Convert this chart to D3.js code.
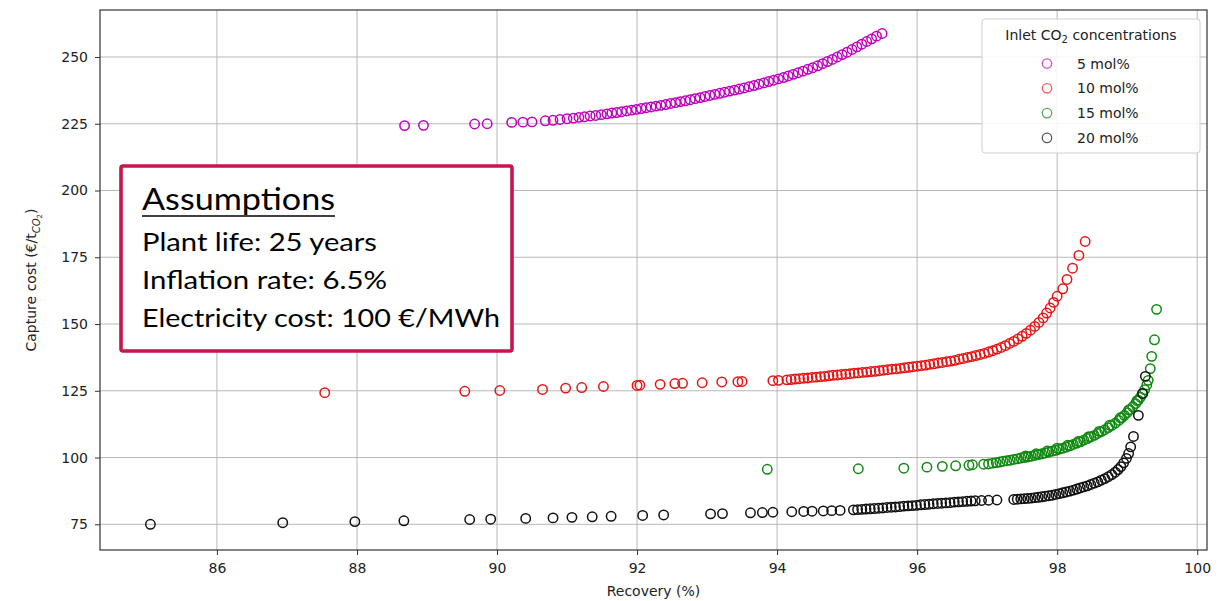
<!DOCTYPE html>
<html>
<head>
<meta charset="utf-8">
<title>Capture cost vs recovery</title>
<script src="https://d3js.org/d3.v7.min.js"></script>
<style>
  body { margin: 0; background: #fff; }
  svg { display: block; }
  .tick text { font-family: "DejaVu Sans", sans-serif; font-size: 14px; fill: #222; }
</style>
</head>
<body>
<svg id="chart"></svg>
<script>
// recovery (%) , capture cost (EUR/t CO2)
const series5 = [
  [88.68,224.3],[88.95,224.4],[89.68,224.9],[89.86,225.0],[90.21,225.5],[90.37,225.6],[90.50,225.7],
  [90.69,226.1],[90.80,226.3],[90.90,226.6],[91.00,226.9],[91.09,227.1],[91.17,227.4],[91.25,227.6],
  [91.33,227.9],[91.41,228.1],[91.49,228.4],[91.57,228.7],[91.64,229.0],[91.71,229.2],[91.78,229.5],
  [91.85,229.8],[91.92,230.1],[91.99,230.4],[92.06,230.7],[92.13,231.0],[92.20,231.3],[92.27,231.6],
  [92.34,231.9],[92.41,232.2],[92.48,232.6],[92.55,232.9],[92.62,233.3],[92.69,233.6],[92.76,234.0],
  [92.83,234.4],[92.90,234.8],[92.97,235.2],[93.04,235.6],[93.11,236.0],[93.18,236.4],[93.25,236.8],
  [93.32,237.2],[93.39,237.6],[93.46,238.0],[93.53,238.4],[93.60,238.9],[93.67,239.3],[93.74,239.8],
  [93.81,240.3],[93.88,240.8],[93.95,241.3],[94.02,241.8],[94.09,242.3],[94.16,242.9],[94.23,243.5],
  [94.30,244.1],[94.37,244.7],[94.44,245.4],[94.51,246.0],[94.58,246.7],[94.65,247.5],[94.72,248.3],
  [94.79,249.1],[94.86,250.0],[94.93,250.9],[95.00,251.8],[95.07,252.8],[95.14,253.8],[95.21,254.8],
  [95.28,255.8],[95.35,256.8],[95.42,257.8],[95.50,258.8]
];
const series10 = [
  [87.54,124.3],[89.54,124.8],[90.04,125.1],[90.65,125.5],[90.98,126.0],[91.21,126.2],[91.52,126.6],
  [92.00,127.0],[92.04,127.1],[92.33,127.4],[92.54,127.7],[92.65,127.8],[92.93,128.0],[93.21,128.3],
  [93.44,128.4],[93.50,128.5],[93.94,128.8],[94.02,128.9],[94.14,129.1],
  [94.20,129.2],[94.26,129.4],[94.32,129.5],[94.38,129.7],[94.44,129.8],[94.50,130.0],[94.56,130.1],
  [94.62,130.3],[94.68,130.4],[94.74,130.6],[94.80,130.8],[94.86,130.9],[94.92,131.1],[94.98,131.2],
  [95.04,131.4],[95.10,131.6],[95.16,131.7],[95.22,131.9],[95.28,132.0],[95.34,132.2],[95.40,132.3],
  [95.46,132.5],[95.52,132.7],[95.58,132.9],[95.64,133.1],[95.70,133.2],[95.76,133.4],[95.82,133.6],
  [95.88,133.8],[95.94,134.0],[96.00,134.2],[96.06,134.4],[96.12,134.6],[96.18,134.9],[96.24,135.1],
  [96.30,135.4],[96.36,135.6],[96.42,135.9],[96.48,136.1],[96.54,136.4],[96.60,136.8],[96.66,137.1],
  [96.72,137.5],[96.78,137.8],[96.84,138.2],[96.90,138.6],[96.96,139.0],[97.02,139.5],[97.08,140.0],
  [97.14,140.6],[97.20,141.2],[97.26,141.9],[97.32,142.7],[97.38,143.5],[97.44,144.4],[97.50,145.4],
  [97.56,146.5],[97.62,147.7],[97.68,149.1],[97.74,150.6],[97.80,152.3],[97.85,154.1],[97.90,156.0],
  [97.95,158.1],[98.00,160.4],[98.08,163.2],[98.14,166.7],[98.22,170.9],[98.31,175.7],[98.40,180.9]
];
const series15 = [
  [93.86,95.6],[95.16,95.8],[95.81,96.0],[96.14,96.4],[96.36,96.7],[96.55,96.9],[96.74,97.1],
  [96.79,97.3],[96.95,97.5],[97.02,97.6],
  [97.08,97.9],[97.13,98.1],[97.18,98.3],[97.23,98.6],[97.28,98.8],[97.33,99.0],[97.38,99.3],
  [97.43,99.5],[97.48,99.8],[97.53,100.0],[97.58,100.2],[97.63,100.5],[97.68,100.8],[97.73,101.1],
  [97.78,101.4],[97.83,101.7],[97.88,102.0],[97.93,102.4],[97.98,102.7],[98.03,103.1],[98.08,103.5],
  [98.13,103.9],[98.18,104.4],[98.23,104.9],[98.28,105.4],[98.33,105.9],[98.38,106.5],[98.43,107.1],
  [98.48,107.7],[98.53,108.3],[98.58,109.0],[98.63,109.7],[98.68,110.4],[98.73,111.2],[98.78,112.0],
  [98.83,112.9],[98.88,113.9],[98.92,114.8],[98.96,115.8],[99.00,116.8],[99.04,117.9],[99.08,119.0],
  [99.12,120.2],[99.16,121.5],[99.19,122.6],[99.22,123.9],[99.25,125.4],[99.28,127.2],[99.30,128.9],
  [99.33,133.3],[99.35,137.9],[99.39,144.1],[99.42,155.5],
  [97.55,100.6],[97.70,101.4],[97.86,102.5],[98.00,103.5],[98.15,104.6],[98.30,106.0],[98.45,107.8],
  [98.60,109.8],[98.75,112.1],[98.90,114.9],[99.02,117.8],[99.14,121.3]
];
const series20 = [
  [85.05,75.0],[86.94,75.6],[87.97,76.0],[88.67,76.3],[89.61,76.8],[89.91,76.9],[90.41,77.2],
  [90.80,77.4],[91.07,77.6],[91.36,77.8],[91.63,78.0],[92.08,78.3],[92.38,78.5],[93.05,78.9],
  [93.22,79.0],[93.62,79.3],[93.79,79.4],[93.94,79.5],[94.21,79.7],[94.38,79.8],[94.50,79.9],
  [94.66,80.0],[94.78,80.1],[94.90,80.2],
  [95.09,80.4],[95.15,80.5],[95.21,80.6],[95.27,80.7],[95.33,80.8],[95.39,80.9],[95.45,81.0],
  [95.51,81.1],[95.57,81.3],[95.63,81.4],[95.69,81.5],[95.75,81.6],[95.81,81.8],[95.87,81.9],
  [95.93,82.0],[95.99,82.1],[96.05,82.3],[96.11,82.4],[96.17,82.5],[96.23,82.7],[96.29,82.8],
  [96.35,82.9],[96.41,83.0],[96.47,83.1],[96.53,83.3],[96.59,83.4],[96.65,83.5],[96.71,83.6],
  [96.77,83.7],[96.83,83.8],[96.92,83.9],[97.02,84.0],[97.14,84.1],
  [97.38,84.3],[97.43,84.4],[97.48,84.5],[97.53,84.6],[97.58,84.7],[97.63,84.8],[97.68,85.0],
  [97.73,85.1],[97.78,85.3],[97.83,85.5],[97.88,85.7],[97.93,85.9],[97.98,86.2],[98.03,86.5],
  [98.08,86.8],[98.13,87.1],[98.18,87.4],[98.23,87.8],[98.28,88.2],[98.33,88.6],[98.38,89.0],
  [98.43,89.4],[98.48,89.9],[98.53,90.4],[98.58,90.9],[98.63,91.5],[98.68,92.1],[98.73,92.8],
  [98.78,93.6],[98.83,94.5],[98.87,95.5],[98.91,96.6],[98.95,98.0],[98.99,99.7],[99.02,101.5],
  [99.05,104.0],[99.09,107.9],[99.16,115.8],[99.22,124.0],[99.26,130.4]
];

const seriesLabels = ["5 mol%", "10 mol%", "15 mol%", "20 mol%"];
const seriesColors = ["#bf00bf", "#e81414", "#0f880f", "#111111"];
const xTicks = [86, 88, 90, 92, 94, 96, 98, 100];
const yTicks = [75, 100, 125, 150, 175, 200, 225, 250];
const assumptionLines = ["Plant life: 25 years", "Inflation rate: 6.5%", "Electricity cost: 100 €/MWh"];

const W = 1225, H = 601;
const plot = { left: 100, right: 1207, top: 10, bottom: 550 };

const svg = d3.select("#chart").attr("width", W).attr("height", H);

const x = d3.scaleLinear().domain([84.33, 100.14]).range([plot.left, plot.right]);
const y = d3.scaleLinear().domain([65.37, 267.6]).range([plot.bottom, plot.top]);

// grid
const grid = svg.append("g");
grid.selectAll("line.gx").data(xTicks).join("line")
    .attr("x1", d => x(d)).attr("x2", d => x(d))
    .attr("y1", plot.top).attr("y2", plot.bottom)
    .attr("stroke", "#b8b8b8").attr("stroke-width", 1);
grid.selectAll("line.gy").data(yTicks).join("line")
    .attr("x1", plot.left).attr("x2", plot.right)
    .attr("y1", d => y(d)).attr("y2", d => y(d))
    .attr("stroke", "#b8b8b8").attr("stroke-width", 1);

// axes
const xAxis = svg.append("g")
    .attr("transform", `translate(0,${plot.bottom})`)
    .call(d3.axisBottom(x).tickValues(xTicks).tickSize(5).tickPadding(8));
const yAxis = svg.append("g")
    .attr("transform", `translate(${plot.left},0)`)
    .call(d3.axisLeft(y).tickValues(yTicks).tickSize(5).tickPadding(7));
[xAxis, yAxis].forEach(a => {
    a.select(".domain").remove();
    a.selectAll(".tick line").attr("stroke", "#333");
});

// spines
svg.append("rect")
    .attr("x", plot.left).attr("y", plot.top)
    .attr("width", plot.right - plot.left).attr("height", plot.bottom - plot.top)
    .attr("fill", "none").attr("stroke", "#333").attr("stroke-width", 1.2);

// points
const allSeries = [series5, series10, series15, series20];
allSeries.forEach((s, i) => {
    svg.append("g").selectAll("circle").data(s).join("circle")
        .attr("cx", d => x(d[0]))
        .attr("cy", d => y(d[1]))
        .attr("r", 4.7)
        .attr("fill", "none")
        .attr("stroke", seriesColors[i])
        .attr("stroke-width", 1.5);
});

// axis labels
svg.append("text")
    .attr("x", (plot.left + plot.right) / 2).attr("y", 596)
    .attr("text-anchor", "middle")
    .style("font-family", "DejaVu Sans, sans-serif").style("font-size", "14px").attr("fill", "#222")
    .text("Recovery (%)");

const yl = svg.append("text")
    .attr("transform", `translate(36,${(plot.top + plot.bottom) / 2}) rotate(-90)`)
    .attr("text-anchor", "middle")
    .style("font-family", "DejaVu Sans, sans-serif").style("font-size", "14px").attr("fill", "#222");
yl.append("tspan").text("Capture cost (€/t");
yl.append("tspan").attr("dy", 4).style("font-size", "10px").style("font-style", "italic").text("CO");
yl.append("tspan").attr("dy", 2).style("font-size", "7px").text("2");
yl.append("tspan").attr("dy", -6).text(")");

// legend
const lg = svg.append("g");
lg.append("rect")
    .attr("x", 982).attr("y", 19).attr("width", 218).attr("height", 134)
    .attr("rx", 3).attr("fill", "#fff").attr("fill-opacity", 0.85)
    .attr("stroke", "#d0d0d0").attr("stroke-width", 1);
const lt = lg.append("text")
    .attr("x", 1091).attr("y", 40).attr("text-anchor", "middle")
    .style("font-family", "DejaVu Sans, sans-serif").style("font-size", "14px").attr("fill", "#222");
lt.append("tspan").text("Inlet CO");
lt.append("tspan").attr("dy", 3).style("font-size", "10px").text("2");
lt.append("tspan").attr("dy", -3).text(" concentrations");
seriesLabels.forEach((lab, i) => {
    const yy = 63.5 + i * 24.8;
    lg.append("circle").attr("cx", 1047).attr("cy", yy).attr("r", 4.7)
        .attr("fill", "none").attr("stroke", seriesColors[i]).attr("stroke-width", 1.3)
        .attr("stroke-opacity", 0.7);
    lg.append("text").attr("x", 1077).attr("y", yy + 5)
        .style("font-family", "DejaVu Sans, sans-serif").style("font-size", "14px").attr("fill", "#222")
        .text(lab);
});

// assumptions box
const ab = svg.append("g");
ab.append("rect")
    .attr("x", 121).attr("y", 166).attr("width", 391).attr("height", 185)
    .attr("rx", 2).attr("fill", "#fff")
    .attr("stroke", "#c8154b").attr("stroke-width", 3.6);
ab.append("text")
    .attr("x", 142).attr("y", 210)
    .attr("textLength", 193).attr("lengthAdjust", "spacingAndGlyphs")
    .style("font-family", "Lato, 'Open Sans', sans-serif").style("font-size", "30px").attr("fill", "#000")
    .text("Assumptions");
ab.append("line")
    .attr("x1", 142).attr("x2", 335).attr("y1", 216).attr("y2", 216)
    .attr("stroke", "#000").attr("stroke-width", 1.6);
const lineWidths = [235, 245, 358];
assumptionLines.forEach((t, i) => {
    ab.append("text")
        .attr("x", 142).attr("y", 251 + i * 38)
        .attr("textLength", lineWidths[i]).attr("lengthAdjust", "spacingAndGlyphs")
        .style("font-family", "Lato, 'Open Sans', sans-serif").style("font-size", "25px").attr("fill", "#000")
        .text(t);
});
</script>
</body>
</html>
